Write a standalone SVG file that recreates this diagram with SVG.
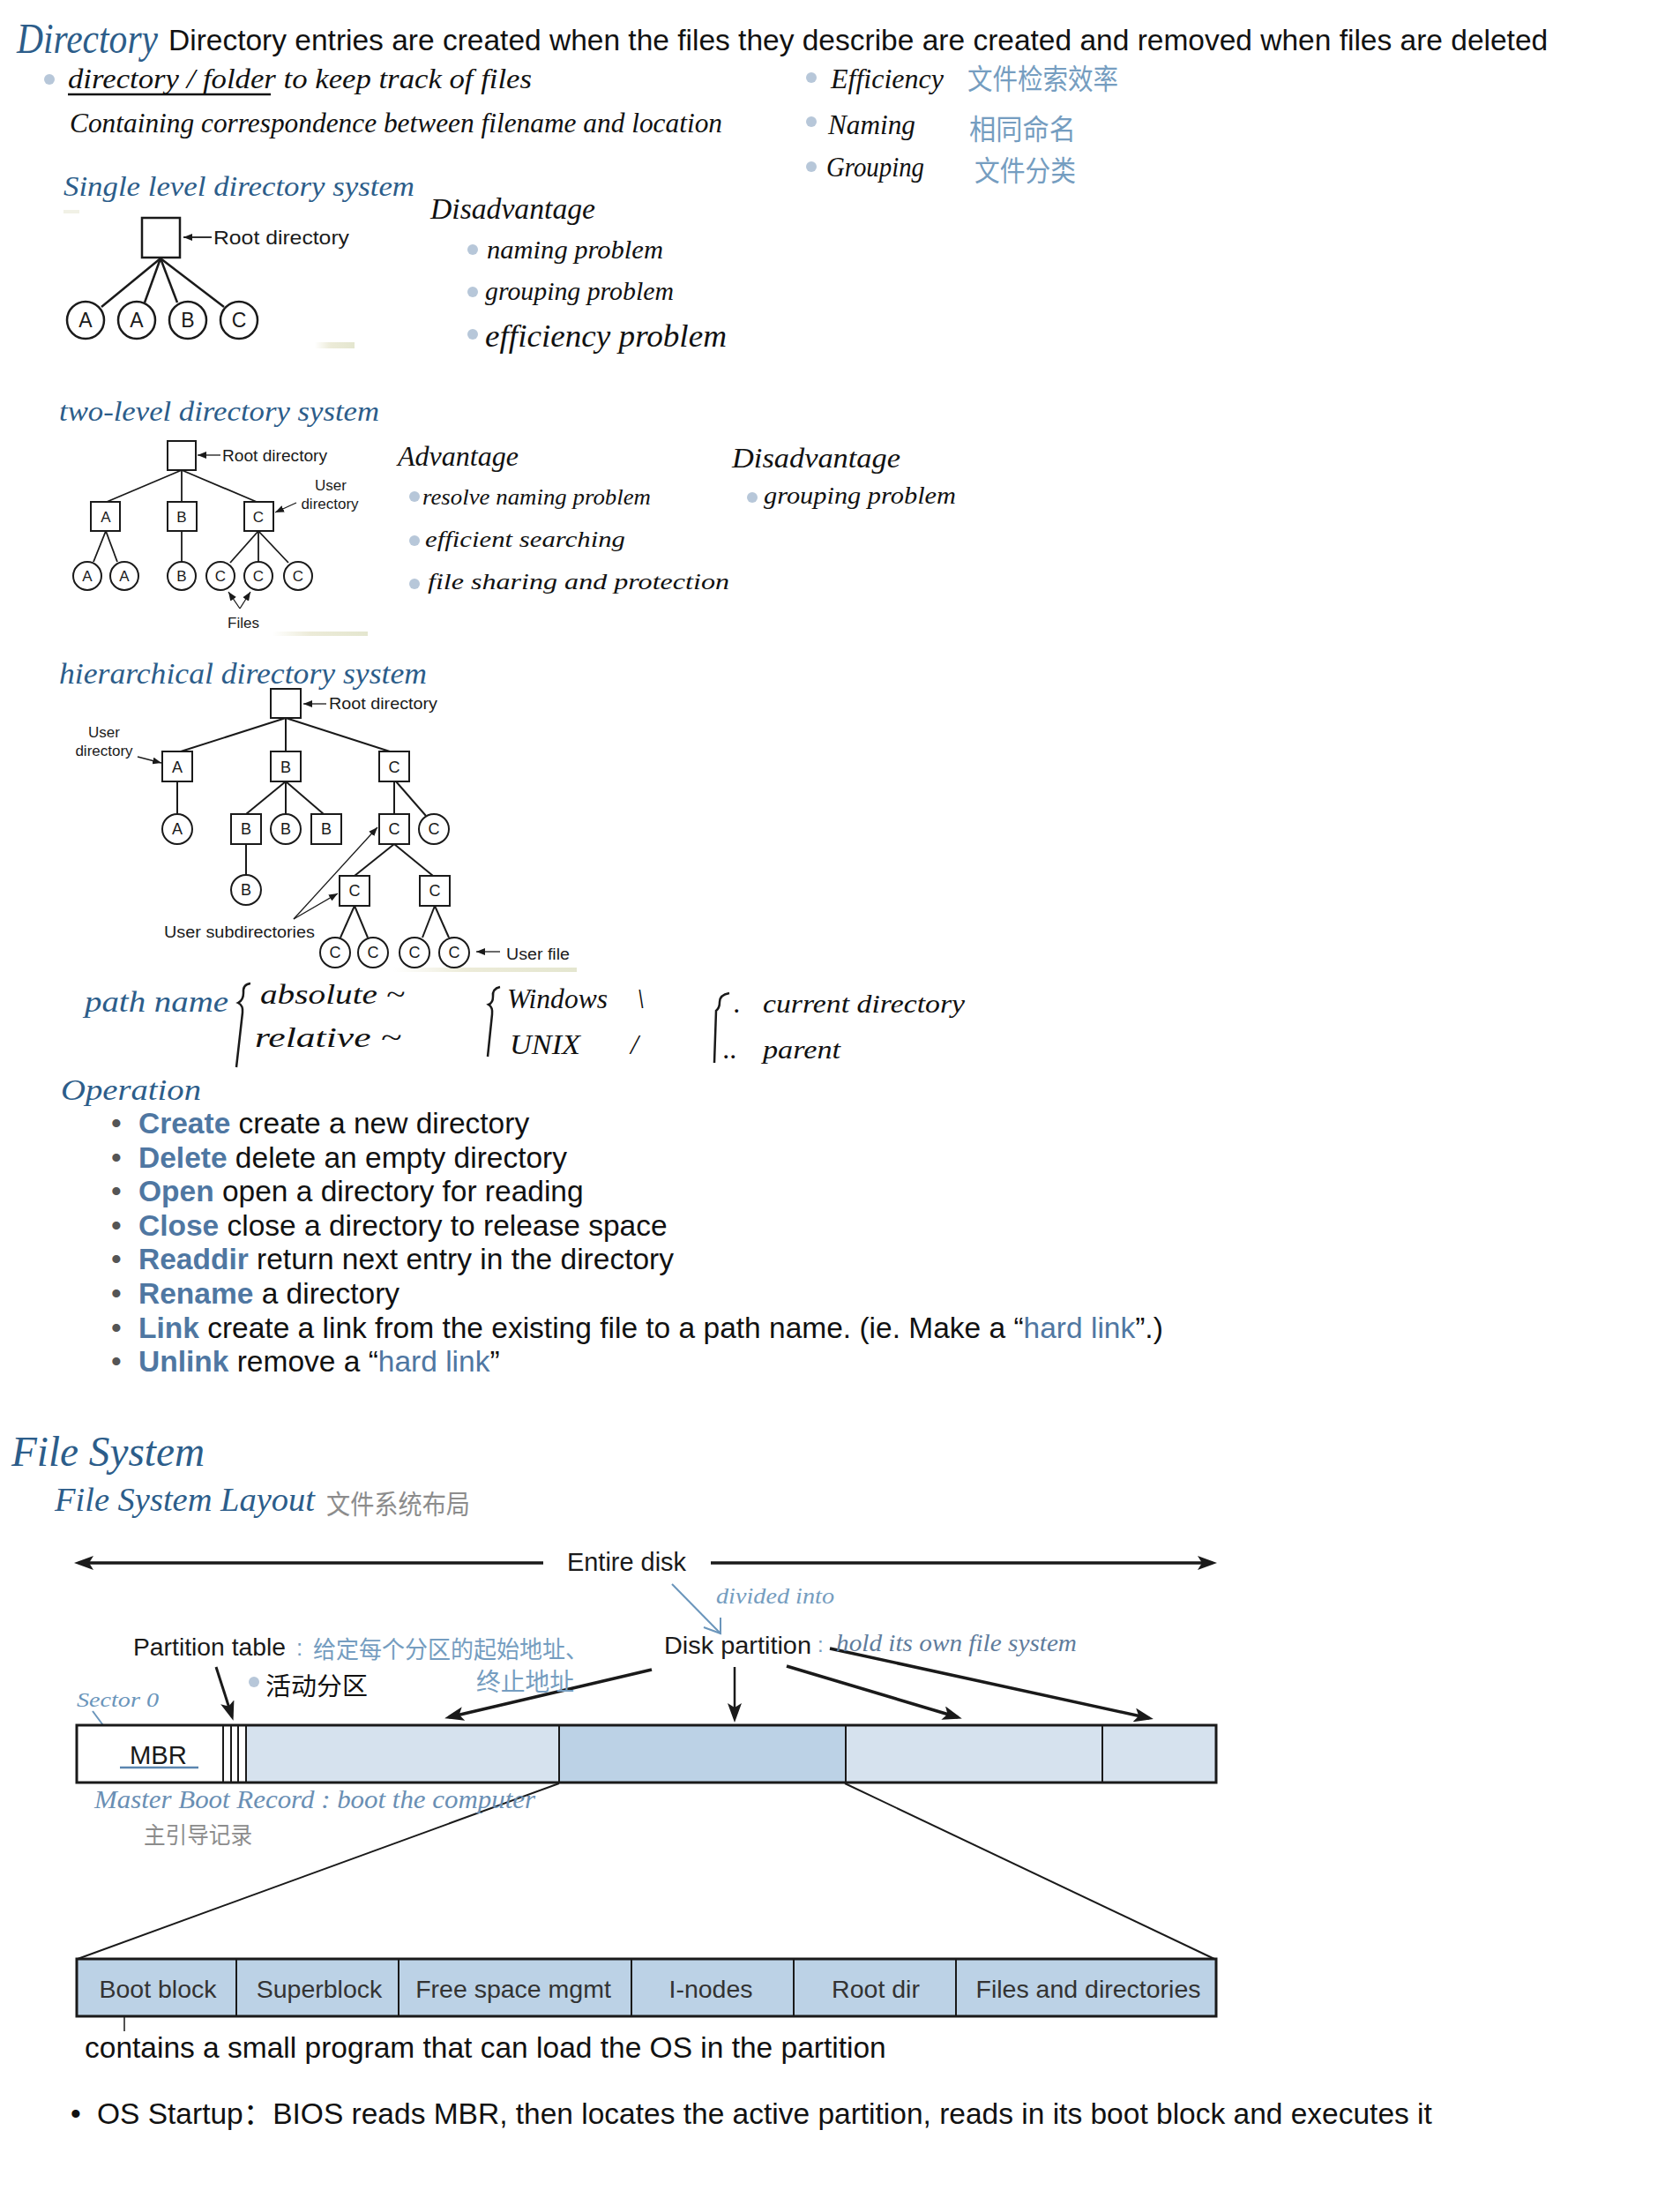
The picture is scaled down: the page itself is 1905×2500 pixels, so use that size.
<svg xmlns="http://www.w3.org/2000/svg" width="1905" height="2500" viewBox="0 0 1905 2500">
<defs>
<style>
.t{font-family:"Liberation Sans",Arial,"Noto Sans CJK SC",sans-serif;fill:#111;font-size:33.5px}
.f{font-family:"Liberation Sans",Arial,sans-serif;fill:#1a1a1a}
.kw{fill:#4f77a2;font-weight:bold}
.hl{fill:#4f77a2}
.hw{font-family:"Liberation Serif","Times New Roman",serif;font-style:italic}
.cj{font-family:"Noto Sans CJK SC","Noto Sans CJK JP",sans-serif}
.db{fill:#2c5d8a}
.lb{fill:#759dc0}
.gb{fill:#5f7c9c}
.gr{fill:#8c8c8c}
.bk{fill:#111}
.dot{fill:#b7c7d9}
.ln{stroke:#1a1a1a;fill:none}
.nd{fill:#fff;stroke:#1a1a1a}
.bl{stroke:#6a95bb;fill:none;stroke-width:2}
.lay{font-family:"Liberation Sans",Arial,sans-serif;font-size:28.5px;fill:#333;text-anchor:middle}
</style>
<marker id="ah" viewBox="0 0 10 8" refX="10" refY="4" markerWidth="10" markerHeight="8" markerUnits="userSpaceOnUse" orient="auto"><path d="M0,0 L10,4 L0,8 z" fill="#1a1a1a"/></marker>
<marker id="big" viewBox="0 0 22 16" refX="17" refY="8" markerWidth="22" markerHeight="16" markerUnits="userSpaceOnUse" orient="auto"><path d="M0,0 L22,8 L0,16 L5,8 z" fill="#1a1a1a"/></marker>
<linearGradient id="beige" x1="0" x2="1" y1="0" y2="0"><stop offset="0" stop-color="#ffffff"/><stop offset="0.4" stop-color="#ecebd8"/><stop offset="1" stop-color="#e4e6cf"/></linearGradient>
</defs>
<rect width="1905" height="2500" fill="#fff"/>

<!-- ===== Directory header ===== -->
<g id="directory-header">
<text class="hw db" x="19" y="60" font-size="48" textLength="160" lengthAdjust="spacingAndGlyphs">Directory</text>
<text class="t" x="191" y="57">Directory entries are created when the files they describe are created and removed when files are deleted</text>
<circle class="dot" cx="56" cy="90" r="6"/>
<text class="hw bk" x="77" y="100" font-size="32" textLength="526" lengthAdjust="spacingAndGlyphs">directory / folder to keep track of files</text>
<line x1="77" y1="107" x2="307" y2="107" stroke="#111" stroke-width="2.5"/>
<text class="hw bk" x="79" y="150" font-size="32" textLength="740" lengthAdjust="spacingAndGlyphs">Containing correspondence between filename and location</text>
<circle class="dot" cx="920" cy="88" r="6"/>
<circle class="dot" cx="920" cy="138" r="6"/>
<circle class="dot" cx="920" cy="189" r="6"/>
<text class="hw bk" x="942" y="100" font-size="32" textLength="128" lengthAdjust="spacingAndGlyphs">Efficiency</text>
<text class="hw bk" x="939" y="152" font-size="32" textLength="99" lengthAdjust="spacingAndGlyphs">Naming</text>
<text class="hw bk" x="937" y="200" font-size="32" textLength="111" lengthAdjust="spacingAndGlyphs">Grouping</text>
<text class="cj lb" x="1097" y="101" font-size="32" textLength="171" lengthAdjust="spacingAndGlyphs">文件检索效率</text>
<text class="cj lb" x="1099" y="158" font-size="32" textLength="121" lengthAdjust="spacingAndGlyphs">相同命名</text>
<text class="cj lb" x="1105" y="205" font-size="32" textLength="115" lengthAdjust="spacingAndGlyphs">文件分类</text>
</g>

<!-- ===== Single level ===== -->
<g id="single-level-notes">
<text class="hw db" x="72" y="222" font-size="32" textLength="398" lengthAdjust="spacingAndGlyphs">Single level directory system</text>
<text class="hw bk" x="488" y="248" font-size="34" textLength="187" lengthAdjust="spacingAndGlyphs">Disadvantage</text>
<circle class="dot" cx="536" cy="283" r="6"/>
<circle class="dot" cx="536" cy="331" r="6"/>
<circle class="dot" cx="536" cy="379" r="6"/>
<text class="hw bk" x="552" y="293" font-size="30" textLength="200" lengthAdjust="spacingAndGlyphs">naming problem</text>
<text class="hw bk" x="550" y="340" font-size="30" textLength="214" lengthAdjust="spacingAndGlyphs">grouping problem</text>
<text class="hw bk" x="550" y="393" font-size="36" textLength="274" lengthAdjust="spacingAndGlyphs">efficiency problem</text>
<rect x="72" y="238" width="18" height="4" fill="#f1f1e6"/>
<rect x="357" y="388" width="45" height="7" fill="url(#beige)"/>
</g>
<g id="single-connectors" class="ln" stroke-width="2.5">
<line x1="182" y1="293" x2="115" y2="348"/>
<line x1="182" y1="293" x2="164" y2="343"/>
<line x1="182" y1="293" x2="201" y2="343"/>
<line x1="182" y1="293" x2="254" y2="348"/>
<line x1="240" y1="269" x2="208" y2="269" stroke-width="1.8" marker-end="url(#ah)"/>
</g>
<g id="s-root"><rect class="nd" x="161" y="247" width="43" height="45" stroke-width="2.5"/><text class="f" x="242" y="277" font-size="22" textLength="154" lengthAdjust="spacingAndGlyphs">Root directory</text></g>
<g id="s-a1"><circle class="nd" cx="97" cy="363" r="21" stroke-width="2.5"/><text class="f" x="97" y="371" font-size="23" text-anchor="middle">A</text></g>
<g id="s-a2"><circle class="nd" cx="155" cy="363" r="21" stroke-width="2.5"/><text class="f" x="155" y="371" font-size="23" text-anchor="middle">A</text></g>
<g id="s-b"><circle class="nd" cx="213" cy="363" r="21" stroke-width="2.5"/><text class="f" x="213" y="371" font-size="23" text-anchor="middle">B</text></g>
<g id="s-c"><circle class="nd" cx="271" cy="363" r="21" stroke-width="2.5"/><text class="f" x="271" y="371" font-size="23" text-anchor="middle">C</text></g>

<!-- ===== Two level ===== -->
<g id="two-level-notes">
<text class="hw db" x="67" y="477" font-size="32" textLength="363" lengthAdjust="spacingAndGlyphs">two-level directory system</text>
<text class="hw bk" x="451" y="528" font-size="32" textLength="137" lengthAdjust="spacingAndGlyphs">Advantage</text>
<circle class="dot" cx="470" cy="563" r="6"/>
<circle class="dot" cx="470" cy="613" r="6"/>
<circle class="dot" cx="470" cy="662" r="6"/>
<text class="hw bk" x="479" y="572" font-size="26" textLength="259" lengthAdjust="spacingAndGlyphs">resolve naming problem</text>
<text class="hw bk" x="482" y="620" font-size="26" textLength="227" lengthAdjust="spacingAndGlyphs">efficient searching</text>
<text class="hw bk" x="485" y="668" font-size="26" textLength="342" lengthAdjust="spacingAndGlyphs">file sharing and protection</text>
<text class="hw bk" x="830" y="530" font-size="32" textLength="191" lengthAdjust="spacingAndGlyphs">Disadvantage</text>
<circle class="dot" cx="853" cy="564" r="6"/>
<text class="hw bk" x="866" y="571" font-size="28" textLength="218" lengthAdjust="spacingAndGlyphs">grouping problem</text>
<rect x="309" y="716" width="108" height="5" fill="url(#beige)"/>
</g>
<g id="two-connectors" class="ln" stroke-width="1.8">
<line x1="206" y1="533" x2="121" y2="569"/>
<line x1="206" y1="533" x2="206" y2="569"/>
<line x1="206" y1="533" x2="291" y2="569"/>
<line x1="120" y1="602" x2="106" y2="637"/>
<line x1="120" y1="602" x2="133" y2="637"/>
<line x1="206" y1="602" x2="206" y2="637"/>
<line x1="293" y1="602" x2="261" y2="638"/>
<line x1="293" y1="602" x2="293" y2="637"/>
<line x1="293" y1="602" x2="327" y2="638"/>
<line x1="250" y1="516" x2="224" y2="516" stroke-width="1.3" marker-end="url(#ah)"/>
<line x1="336" y1="570" x2="312" y2="581" stroke-width="1.3" marker-end="url(#ah)"/>
<line x1="272" y1="690" x2="259" y2="671" stroke-width="1.3" marker-end="url(#ah)"/>
<line x1="272" y1="690" x2="284" y2="671" stroke-width="1.3" marker-end="url(#ah)"/>
</g>
<g id="t-root"><rect class="nd" x="190" y="500" width="32" height="33" stroke-width="2"/><text class="f" x="252" y="523" font-size="18" textLength="119" lengthAdjust="spacingAndGlyphs">Root directory</text></g>
<g id="t-ua"><rect class="nd" x="103" y="569" width="33" height="33" stroke-width="2"/><text class="f" x="120" y="592" font-size="17" text-anchor="middle">A</text></g>
<g id="t-ub"><rect class="nd" x="190" y="569" width="33" height="33" stroke-width="2"/><text class="f" x="206" y="592" font-size="17" text-anchor="middle">B</text></g>
<g id="t-uc"><rect class="nd" x="277" y="569" width="33" height="33" stroke-width="2"/><text class="f" x="293" y="592" font-size="17" text-anchor="middle">C</text></g>
<g id="t-userdir-label"><text class="f" x="375" y="556" font-size="17" text-anchor="middle">User</text><text class="f" x="374" y="577" font-size="17" text-anchor="middle">directory</text></g>
<g id="t-fa1"><circle class="nd" cx="99" cy="653" r="16" stroke-width="2"/><text class="f" x="99" y="659" font-size="17" text-anchor="middle">A</text></g>
<g id="t-fa2"><circle class="nd" cx="141" cy="653" r="16" stroke-width="2"/><text class="f" x="141" y="659" font-size="17" text-anchor="middle">A</text></g>
<g id="t-fb"><circle class="nd" cx="206" cy="653" r="16" stroke-width="2"/><text class="f" x="206" y="659" font-size="17" text-anchor="middle">B</text></g>
<g id="t-fc1"><circle class="nd" cx="250" cy="653" r="16" stroke-width="2"/><text class="f" x="250" y="659" font-size="17" text-anchor="middle">C</text></g>
<g id="t-fc2"><circle class="nd" cx="293" cy="653" r="16" stroke-width="2"/><text class="f" x="293" y="659" font-size="17" text-anchor="middle">C</text></g>
<g id="t-fc3"><circle class="nd" cx="338" cy="653" r="16" stroke-width="2"/><text class="f" x="338" y="659" font-size="17" text-anchor="middle">C</text></g>
<g id="t-files-label"><text class="f" x="276" y="712" font-size="17" text-anchor="middle">Files</text></g>

<!-- ===== Hierarchical ===== -->
<g id="hier-notes">
<text class="hw db" x="67" y="775" font-size="34" textLength="417" lengthAdjust="spacingAndGlyphs">hierarchical directory system</text>
<rect x="446" y="1097" width="208" height="5" fill="url(#beige)"/>
</g>
<g id="hier-connectors" class="ln" stroke-width="2">
<line x1="324" y1="814" x2="205" y2="852"/>
<line x1="324" y1="814" x2="324" y2="852"/>
<line x1="324" y1="814" x2="442" y2="852"/>
<line x1="201" y1="886" x2="201" y2="923"/>
<line x1="324" y1="886" x2="279" y2="923"/>
<line x1="324" y1="886" x2="324" y2="923"/>
<line x1="324" y1="886" x2="367" y2="923"/>
<line x1="447" y1="886" x2="447" y2="923"/>
<line x1="449" y1="886" x2="483" y2="925"/>
<line x1="279" y1="957" x2="279" y2="992"/>
<line x1="447" y1="957" x2="402" y2="993"/>
<line x1="447" y1="957" x2="491" y2="993"/>
<line x1="402" y1="1027" x2="386" y2="1063"/>
<line x1="402" y1="1027" x2="417" y2="1063"/>
<line x1="493" y1="1027" x2="479" y2="1063"/>
<line x1="493" y1="1027" x2="509" y2="1063"/>
<line x1="370" y1="798" x2="344" y2="798" stroke-width="1.3" marker-end="url(#ah)"/>
<line x1="156" y1="858" x2="183" y2="865" stroke-width="1.3" marker-end="url(#ah)"/>
<line x1="567" y1="1079" x2="540" y2="1079" stroke-width="1.3" marker-end="url(#ah)"/>
<line x1="333" y1="1042" x2="428" y2="938" stroke-width="1.3" marker-end="url(#ah)"/>
<line x1="333" y1="1042" x2="383" y2="1013" stroke-width="1.3" marker-end="url(#ah)"/>
</g>
<g id="h-root"><rect class="nd" x="307" y="781" width="34" height="33" stroke-width="2"/><text class="f" x="373" y="804" font-size="19" textLength="123" lengthAdjust="spacingAndGlyphs">Root directory</text></g>
<g id="h-userdir-label"><text class="f" x="118" y="836" font-size="17" text-anchor="middle">User</text><text class="f" x="118" y="857" font-size="17" text-anchor="middle">directory</text></g>
<g id="h-ua"><rect class="nd" x="184" y="852" width="34" height="34" stroke-width="2"/><text class="f" x="201" y="876" font-size="18" text-anchor="middle">A</text></g>
<g id="h-ub"><rect class="nd" x="307" y="852" width="34" height="34" stroke-width="2"/><text class="f" x="324" y="876" font-size="18" text-anchor="middle">B</text></g>
<g id="h-uc"><rect class="nd" x="430" y="852" width="34" height="34" stroke-width="2"/><text class="f" x="447" y="876" font-size="18" text-anchor="middle">C</text></g>
<g id="h-fa"><circle class="nd" cx="201" cy="940" r="17" stroke-width="2"/><text class="f" x="201" y="946" font-size="18" text-anchor="middle">A</text></g>
<g id="h-db1"><rect class="nd" x="262" y="923" width="34" height="34" stroke-width="2"/><text class="f" x="279" y="946" font-size="18" text-anchor="middle">B</text></g>
<g id="h-fb1"><circle class="nd" cx="324" cy="940" r="17" stroke-width="2"/><text class="f" x="324" y="946" font-size="18" text-anchor="middle">B</text></g>
<g id="h-db2"><rect class="nd" x="353" y="923" width="34" height="34" stroke-width="2"/><text class="f" x="370" y="946" font-size="18" text-anchor="middle">B</text></g>
<g id="h-dc1"><rect class="nd" x="430" y="923" width="34" height="34" stroke-width="2"/><text class="f" x="447" y="946" font-size="18" text-anchor="middle">C</text></g>
<g id="h-fc1"><circle class="nd" cx="492" cy="940" r="17" stroke-width="2"/><text class="f" x="492" y="946" font-size="18" text-anchor="middle">C</text></g>
<g id="h-fb2"><circle class="nd" cx="279" cy="1009" r="17" stroke-width="2"/><text class="f" x="279" y="1015" font-size="18" text-anchor="middle">B</text></g>
<g id="h-dc2"><rect class="nd" x="385" y="993" width="34" height="34" stroke-width="2"/><text class="f" x="402" y="1016" font-size="18" text-anchor="middle">C</text></g>
<g id="h-dc3"><rect class="nd" x="476" y="993" width="34" height="34" stroke-width="2"/><text class="f" x="493" y="1016" font-size="18" text-anchor="middle">C</text></g>
<g id="h-fc2"><circle class="nd" cx="380" cy="1080" r="17" stroke-width="2"/><text class="f" x="380" y="1086" font-size="18" text-anchor="middle">C</text></g>
<g id="h-fc3"><circle class="nd" cx="423" cy="1080" r="17" stroke-width="2"/><text class="f" x="423" y="1086" font-size="18" text-anchor="middle">C</text></g>
<g id="h-fc4"><circle class="nd" cx="470" cy="1080" r="17" stroke-width="2"/><text class="f" x="470" y="1086" font-size="18" text-anchor="middle">C</text></g>
<g id="h-fc5"><circle class="nd" cx="515" cy="1080" r="17" stroke-width="2"/><text class="f" x="515" y="1086" font-size="18" text-anchor="middle">C</text></g>
<g id="h-userfile-label"><text class="f" x="574" y="1088" font-size="18" textLength="72" lengthAdjust="spacingAndGlyphs">User file</text></g>
<g id="h-subdir-label"><text class="f" x="186" y="1063" font-size="18" textLength="171" lengthAdjust="spacingAndGlyphs">User subdirectories</text></g>

<!-- ===== Path name ===== -->
<g id="path-name">
<text class="hw db" x="96" y="1147" font-size="34" textLength="163" lengthAdjust="spacingAndGlyphs">path name</text>
<path class="ln" stroke-width="2.5" d="M284,1115 Q275,1116 276,1126 Q276,1134 270,1137 Q276,1140 275,1148 L268,1210"/>
<text class="hw bk" x="295" y="1138" font-size="32" textLength="164" lengthAdjust="spacingAndGlyphs">absolute ~</text>
<text class="hw bk" x="289" y="1187" font-size="32" textLength="166" lengthAdjust="spacingAndGlyphs">relative ~</text>
<path class="ln" stroke-width="2.5" d="M567,1119 Q558,1121 559,1130 Q559,1137 554,1139 Q559,1142 558,1150 L553,1198"/>
<text class="hw bk" x="575" y="1143" font-size="32" textLength="114" lengthAdjust="spacingAndGlyphs">Windows</text>
<text class="hw bk" x="722" y="1143" font-size="32">\</text>
<text class="hw bk" x="578" y="1195" font-size="32" textLength="80" lengthAdjust="spacingAndGlyphs">UNIX</text>
<text class="hw bk" x="715" y="1195" font-size="32">/</text>
<path class="ln" stroke-width="2.5" d="M827,1126 Q816,1128 816,1136 Q816,1143 812,1146 L810,1205"/>
<text class="hw bk" x="832" y="1148" font-size="32">.</text>
<text class="hw bk" x="865" y="1148" font-size="30" textLength="229" lengthAdjust="spacingAndGlyphs">current directory</text>
<text class="hw bk" x="820" y="1200" font-size="32">..</text>
<text class="hw bk" x="865" y="1200" font-size="30" textLength="88" lengthAdjust="spacingAndGlyphs">parent</text>
</g>

<!-- ===== Operation ===== -->
<g id="operation">
<text class="hw db" x="69" y="1247" font-size="34" textLength="159" lengthAdjust="spacingAndGlyphs">Operation</text>
<g>
<text class="t" x="126" y="1285" style="fill:#555">•</text>
<text class="t" x="126" y="1323.6" style="fill:#555">•</text>
<text class="t" x="126" y="1362.2" style="fill:#555">•</text>
<text class="t" x="126" y="1400.8" style="fill:#555">•</text>
<text class="t" x="126" y="1439.4" style="fill:#555">•</text>
<text class="t" x="126" y="1478" style="fill:#555">•</text>
<text class="t" x="126" y="1516.6" style="fill:#555">•</text>
<text class="t" x="126" y="1555.2" style="fill:#555">•</text>
</g>
<text class="t" x="157" y="1285"><tspan class="kw">Create</tspan> create a new directory</text>
<text class="t" x="157" y="1323.6"><tspan class="kw">Delete</tspan> delete an empty directory</text>
<text class="t" x="157" y="1362.2"><tspan class="kw">Open</tspan> open a directory for reading</text>
<text class="t" x="157" y="1400.8"><tspan class="kw">Close</tspan> close a directory to release space</text>
<text class="t" x="157" y="1439.4"><tspan class="kw">Readdir</tspan> return next entry in the directory</text>
<text class="t" x="157" y="1478"><tspan class="kw">Rename</tspan> a directory</text>
<text class="t" x="157" y="1516.6"><tspan class="kw">Link</tspan> create a link from the existing file to a path name. (ie. Make a “<tspan class="hl">hard link</tspan>”.)</text>
<text class="t" x="157" y="1555.2"><tspan class="kw">Unlink</tspan> remove a “<tspan class="hl">hard link</tspan>”</text>
</g>

<!-- ===== File System ===== -->
<g id="file-system-titles">
<text class="hw db" x="13" y="1662" font-size="48" textLength="219" lengthAdjust="spacingAndGlyphs">File System</text>
<text class="hw db" x="62" y="1713" font-size="38" textLength="295" lengthAdjust="spacingAndGlyphs">File System Layout</text>
<text class="cj gr" x="370" y="1716" font-size="30" textLength="163" lengthAdjust="spacingAndGlyphs">文件系统布局</text>
</g>

<g id="disk-connectors">
<line class="ln" x1="616" y1="1772" x2="89" y2="1772" stroke-width="3.5" marker-end="url(#big)"/>
<line class="ln" x1="806" y1="1772" x2="1375" y2="1772" stroke-width="3.5" marker-end="url(#big)"/>
<line class="ln" x1="245" y1="1890" x2="263" y2="1946" stroke-width="3" marker-end="url(#big)"/>
<line class="ln" x1="739" y1="1893" x2="509" y2="1947" stroke-width="3.5" marker-end="url(#big)"/>
<line class="ln" x1="833" y1="1890" x2="833" y2="1948" stroke-width="2.5" marker-end="url(#big)"/>
<line class="ln" x1="892" y1="1889" x2="1086" y2="1947" stroke-width="3.5" marker-end="url(#big)"/>
<line class="ln" x1="941" y1="1869" x2="1303" y2="1948" stroke-width="3.5" marker-end="url(#big)"/>
<line class="ln" x1="634" y1="2022" x2="88" y2="2221" stroke-width="2"/>
<line class="ln" x1="958" y1="2022" x2="1377" y2="2221" stroke-width="2"/>
<line class="bl" x1="762" y1="1796" x2="817" y2="1852"/>
<polyline class="bl" points="798,1845 817,1852 817,1834"/>
<line class="bl" x1="105" y1="1940" x2="131" y2="1975"/>
<line class="ln" x1="141" y1="2265" x2="141" y2="2303" stroke-width="1.5"/>
</g>

<g id="entire-disk-label"><text class="f" x="643" y="1781" font-size="29" textLength="135" lengthAdjust="spacingAndGlyphs">Entire disk</text></g>

<g id="partition-table-label">
<text class="f" x="151" y="1877" font-size="28.5" textLength="173" lengthAdjust="spacingAndGlyphs">Partition table</text>
<text class="f" x="336" y="1877" font-size="26" style="fill:#759dc0">:</text>
<text class="cj lb" x="355" y="1880" font-size="27" textLength="312" lengthAdjust="spacingAndGlyphs">给定每个分区的起始地址、</text>
<text class="cj lb" x="540" y="1917" font-size="28" textLength="111" lengthAdjust="spacingAndGlyphs">终止地址</text>
<circle class="dot" cx="288" cy="1907" r="6"/>
<text class="cj bk" x="301" y="1922" font-size="28" textLength="116" lengthAdjust="spacingAndGlyphs">活动分区</text>
</g>

<g id="disk-partition-label">
<text class="f" x="753" y="1875" font-size="28.5" textLength="167" lengthAdjust="spacingAndGlyphs">Disk partition</text>
<text class="f" x="927" y="1873" font-size="24" style="fill:#759dc0">:</text>
<text class="hw lb" x="812" y="1818" font-size="26" textLength="134" lengthAdjust="spacingAndGlyphs">divided into</text>
<text class="hw gb" x="948" y="1872" font-size="28" textLength="273" lengthAdjust="spacingAndGlyphs">hold its own file system</text>
</g>

<g id="disk-bar">
<rect x="87" y="1956" width="166" height="65" fill="#fff"/>
<rect x="279" y="1956" width="355" height="65" fill="#d6e2ee"/>
<rect x="634" y="1956" width="325" height="65" fill="#bcd2e6"/>
<rect x="959" y="1956" width="291" height="65" fill="#d6e2ee"/>
<rect x="1250" y="1956" width="129" height="65" fill="#d6e2ee"/>
<g class="ln" stroke-width="2">
<line x1="253" y1="1956" x2="253" y2="2021"/>
<line x1="262" y1="1956" x2="262" y2="2021"/>
<line x1="270" y1="1956" x2="270" y2="2021"/>
<line x1="279" y1="1956" x2="279" y2="2021"/>
<line x1="634" y1="1956" x2="634" y2="2021"/>
<line x1="959" y1="1956" x2="959" y2="2021"/>
<line x1="1250" y1="1956" x2="1250" y2="2021"/>
</g>
<rect x="87" y="1956" width="1292" height="65" fill="none" stroke="#1a1a1a" stroke-width="3"/>
<text class="f" x="147" y="2000" font-size="29" textLength="65" lengthAdjust="spacingAndGlyphs">MBR</text>
<line x1="136" y1="2004" x2="225" y2="2004" stroke="#5b86b0" stroke-width="2.5"/>
</g>

<g id="mbr-notes">
<text class="hw" x="87" y="1935" font-size="24" textLength="93" lengthAdjust="spacingAndGlyphs" style="fill:#6a95bb">Sector 0</text>
<text class="hw" x="107" y="2050" font-size="30" textLength="500" lengthAdjust="spacingAndGlyphs" style="fill:#6a8fb4">Master Boot Record : boot the computer</text>
<text class="cj gr" x="163" y="2090" font-size="26" textLength="123" lengthAdjust="spacingAndGlyphs">主引导记录</text>
</g>

<g id="partition-layout">
<rect x="87" y="2221" width="1292" height="65" fill="#bcd2e6" stroke="#1a1a1a" stroke-width="3"/>
<g class="ln" stroke-width="2">
<line x1="268" y1="2221" x2="268" y2="2286"/>
<line x1="452" y1="2221" x2="452" y2="2286"/>
<line x1="716" y1="2221" x2="716" y2="2286"/>
<line x1="900" y1="2221" x2="900" y2="2286"/>
<line x1="1084" y1="2221" x2="1084" y2="2286"/>
</g>
<g id="boot-block"><text class="lay" x="179" y="2265">Boot block</text></g>
<g id="superblock"><text class="lay" x="362" y="2265">Superblock</text></g>
<g id="free-space"><text class="lay" x="582" y="2265">Free space mgmt</text></g>
<g id="inodes"><text class="lay" x="806" y="2265">I-nodes</text></g>
<g id="root-dir"><text class="lay" x="993" y="2265">Root dir</text></g>
<g id="files-dirs"><text class="lay" x="1234" y="2265">Files and directories</text></g>
</g>

<g id="footer">
<text class="t" x="96" y="2333">contains a small program that can load the OS in the partition</text>
<text class="t" x="80" y="2408">•</text>
<text class="t" x="110" y="2408">OS Startup：BIOS reads MBR, then locates the active partition, reads in its boot block and executes it</text>
</g>
</svg>
